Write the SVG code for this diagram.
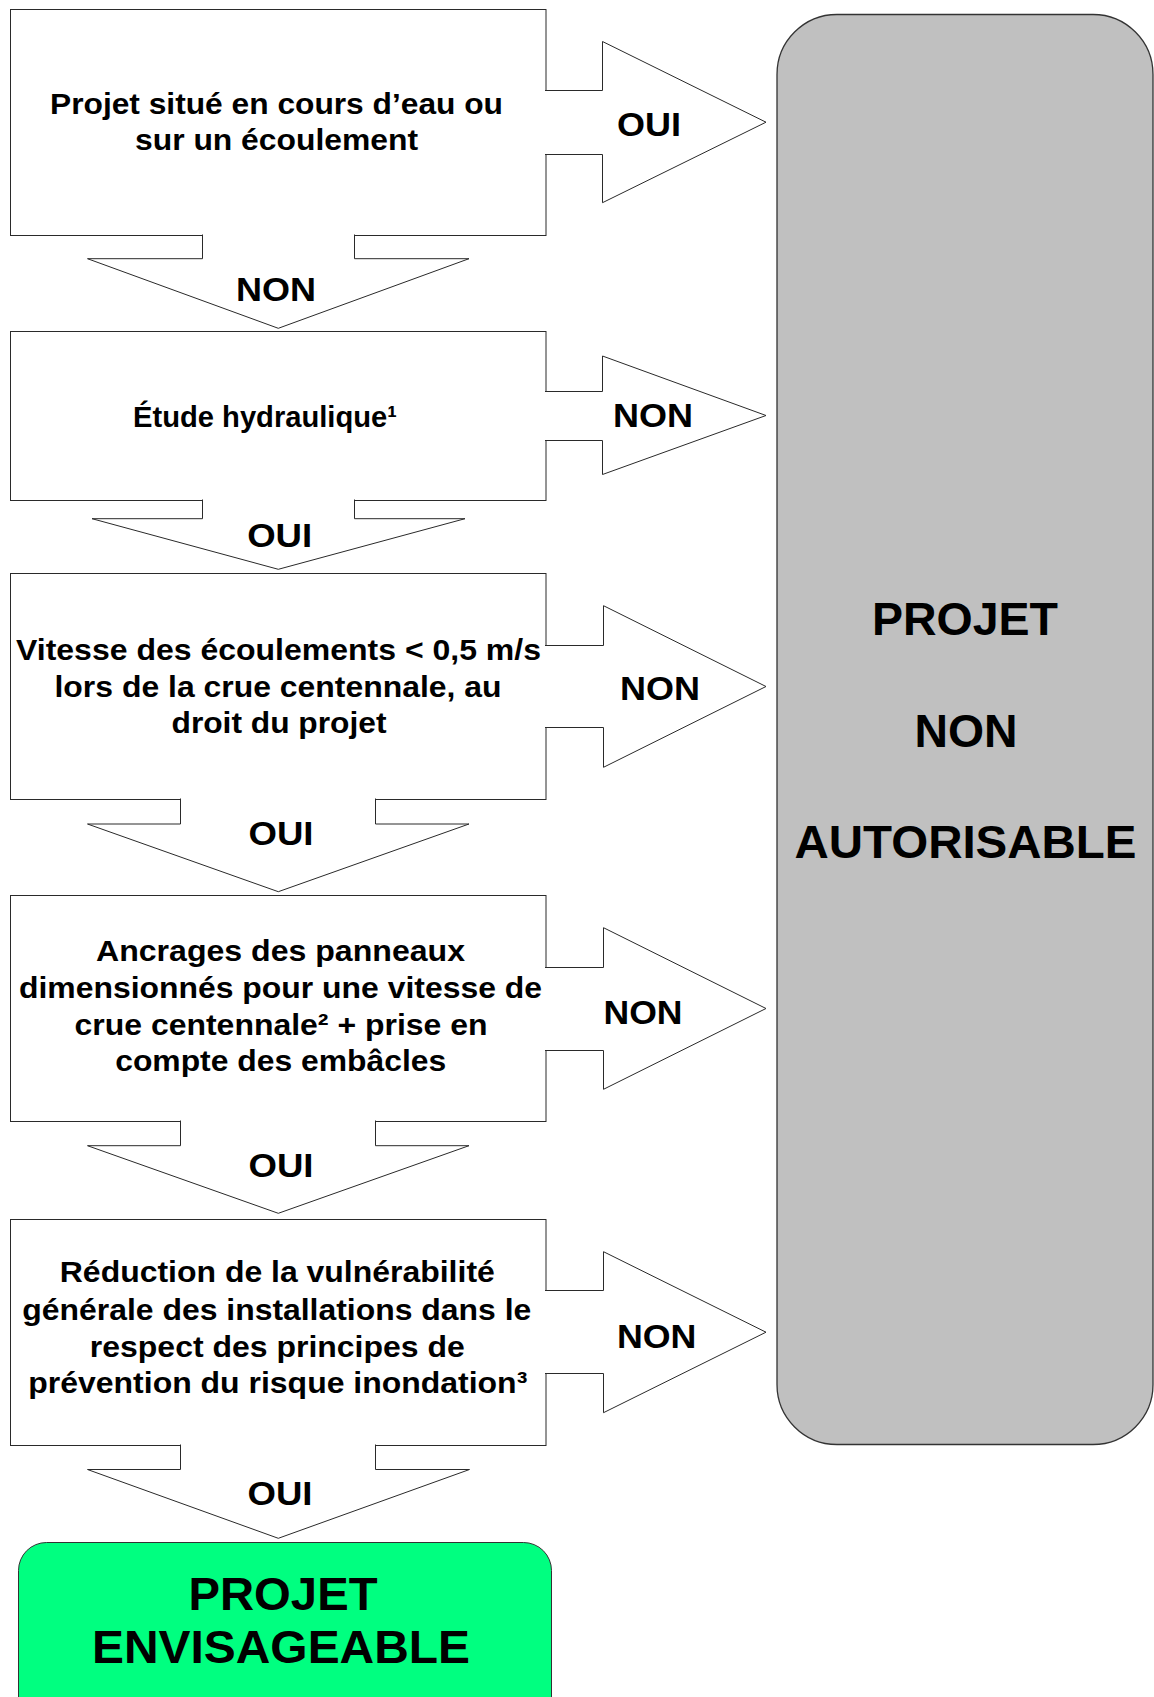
<svg xmlns="http://www.w3.org/2000/svg" width="1154" height="1697" viewBox="0 0 1154 1697">
<style>
  .box { fill: #ffffff; stroke: #2a2a2a; stroke-width: 1; }
  .arrow { fill: #ffffff; stroke: #2a2a2a; stroke-width: 1; }
  .t { font-family: "Liberation Sans", Arial, sans-serif; font-weight: bold; fill: #000000; text-anchor: middle; }
  .body { font-size: 30px; }
  .lbl { font-size: 34px; }
  .big { font-size: 46px; }
  .green { font-size: 47px; }
</style>
<rect width="1154" height="1697" fill="#ffffff"/>

<g id="node-gray">
  <rect x="777" y="14.5" width="376" height="1430" rx="60" ry="60" fill="#c0c0c0" stroke="#333333" stroke-width="1.3"/>
  <text class="t big" x="965" y="635" textLength="186" lengthAdjust="spacingAndGlyphs">PROJET</text>
  <text class="t big" x="966" y="746.7" textLength="103" lengthAdjust="spacingAndGlyphs">NON</text>
  <text class="t big" x="965.5" y="858.3" textLength="342" lengthAdjust="spacingAndGlyphs">AUTORISABLE</text>
</g>

<g id="node-1">
  <rect class="box" x="10.5" y="9.5" width="535.5" height="226"/>
  <text class="t body" x="276.5" y="113.5" textLength="453" lengthAdjust="spacingAndGlyphs">Projet situé en cours d’eau ou</text>
  <text class="t body" x="276.5" y="150" textLength="283" lengthAdjust="spacingAndGlyphs">sur un écoulement</text>
</g>

<g id="node-2">
  <rect class="box" x="10.5" y="331.5" width="535.5" height="169"/>
  <text class="t body" x="265" y="427" textLength="264" lengthAdjust="spacingAndGlyphs">Étude hydraulique¹</text>
</g>

<g id="node-3">
  <rect class="box" x="10.5" y="573.5" width="535.5" height="226"/>
  <text class="t body" x="278.5" y="660" textLength="525" lengthAdjust="spacingAndGlyphs">Vitesse des écoulements &lt; 0,5 m/s</text>
  <text class="t body" x="278" y="697.3" textLength="447" lengthAdjust="spacingAndGlyphs">lors de la crue centennale, au</text>
  <text class="t body" x="279" y="733.3" textLength="215" lengthAdjust="spacingAndGlyphs">droit du projet</text>
</g>

<g id="node-4">
  <rect class="box" x="10.5" y="895.5" width="535.5" height="226"/>
  <text class="t body" x="280.5" y="961" textLength="369" lengthAdjust="spacingAndGlyphs">Ancrages des panneaux</text>
  <text class="t body" x="280.5" y="998.3" textLength="523" lengthAdjust="spacingAndGlyphs">dimensionnés pour une vitesse de</text>
  <text class="t body" x="281" y="1035" textLength="413" lengthAdjust="spacingAndGlyphs">crue centennale² + prise en</text>
  <text class="t body" x="280.7" y="1071" textLength="331" lengthAdjust="spacingAndGlyphs">compte des embâcles</text>
</g>

<g id="node-5">
  <rect class="box" x="10.5" y="1219.5" width="535.5" height="226"/>
  <text class="t body" x="277.3" y="1282.3" textLength="435" lengthAdjust="spacingAndGlyphs">Réduction de la vulnérabilité</text>
  <text class="t body" x="276.8" y="1320" textLength="509" lengthAdjust="spacingAndGlyphs">générale des installations dans le</text>
  <text class="t body" x="277.3" y="1356.7" textLength="375" lengthAdjust="spacingAndGlyphs">respect des principes de</text>
  <text class="t body" x="277.8" y="1392.7" textLength="499" lengthAdjust="spacingAndGlyphs">prévention du risque inondation³</text>
</g>

<g id="node-green">
  <rect x="18.5" y="1542.5" width="533" height="220" rx="28" ry="28" fill="#00ff80" stroke="#333333" stroke-width="1"/>
  <text class="t green" x="283" y="1610" textLength="189" lengthAdjust="spacingAndGlyphs">PROJET</text>
  <text class="t green" x="281" y="1663.3" textLength="378" lengthAdjust="spacingAndGlyphs">ENVISAGEABLE</text>
</g>

<g id="connectors">
  <g id="arrow-r1">
    <path class="arrow" d="M545,90.5 H602.5 V41.5 L766,122.2 L602.5,202.7 V154.5 H545"/>
    <text class="t lbl" x="649" y="136" textLength="64" lengthAdjust="spacingAndGlyphs">OUI</text>
  </g>
  <g id="arrow-r2">
    <path class="arrow" d="M545,391.5 H602.5 V356 L766,415.5 L602.5,474.5 V440.5 H545"/>
    <text class="t lbl" x="653" y="426.7" textLength="80" lengthAdjust="spacingAndGlyphs">NON</text>
  </g>
  <g id="arrow-r3">
    <path class="arrow" d="M545,645.5 H603.5 V605.7 L766,686.5 L603.5,767.3 V727.5 H545"/>
    <text class="t lbl" x="660" y="700" textLength="80" lengthAdjust="spacingAndGlyphs">NON</text>
  </g>
  <g id="arrow-r4">
    <path class="arrow" d="M545,967.5 H603.5 V927.7 L766,1008.5 L603.5,1089.3 V1050.5 H545"/>
    <text class="t lbl" x="643" y="1024.3" textLength="79" lengthAdjust="spacingAndGlyphs">NON</text>
  </g>
  <g id="arrow-r5">
    <path class="arrow" d="M545,1290.5 H603.5 V1251.7 L766,1332.2 L603.5,1412.7 V1373.5 H545"/>
    <text class="t lbl" x="656.7" y="1347.7" textLength="79.5" lengthAdjust="spacingAndGlyphs">NON</text>
  </g>
  <g id="arrow-d1">
    <path class="arrow" d="M202.5,234.5 V258.7 H87.5 L278.3,328.3 L469,258.7 H354.5 V234.5"/>
    <text class="t lbl" x="276" y="301" textLength="80" lengthAdjust="spacingAndGlyphs">NON</text>
  </g>
  <g id="arrow-d2">
    <path class="arrow" d="M202.5,499.5 V518.7 H92 L278.3,569.3 L465,518.7 H354.5 V499.5"/>
    <text class="t lbl" x="279.7" y="546.7" textLength="65" lengthAdjust="spacingAndGlyphs">OUI</text>
  </g>
  <g id="arrow-d3">
    <path class="arrow" d="M180.5,798.5 V824 H87.5 L278.3,891.7 L469,824 H375.5 V798.5"/>
    <text class="t lbl" x="281" y="845" textLength="65" lengthAdjust="spacingAndGlyphs">OUI</text>
  </g>
  <g id="arrow-d4">
    <path class="arrow" d="M180.5,1120.5 V1145.7 H87.5 L278.3,1213.3 L469,1145.7 H375.5 V1120.5"/>
    <text class="t lbl" x="281" y="1176.7" textLength="65" lengthAdjust="spacingAndGlyphs">OUI</text>
  </g>
  <g id="arrow-d5">
    <path class="arrow" d="M180.5,1444.5 V1469.5 H87.5 L278.3,1538.3 L469.5,1469.5 H375.5 V1444.5"/>
    <text class="t lbl" x="280" y="1505" textLength="65" lengthAdjust="spacingAndGlyphs">OUI</text>
  </g>
</g>
</svg>
